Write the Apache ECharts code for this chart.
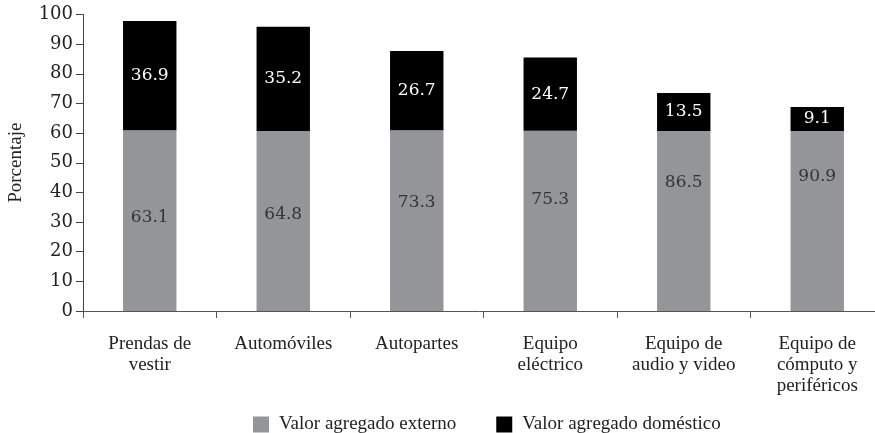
<!DOCTYPE html>
<html>
<head>
<meta charset="utf-8">
<script src="https://cdn.jsdelivr.net/npm/echarts@6/dist/echarts.min.js"></script>
<style>html,body{margin:0;padding:0;background:#fff;}#c{width:875px;height:433px;}</style>
</head>
<body>
<div id="c"></div>
<script>
const categories = ["Prendas de\nvestir", "Automóviles", "Autopartes", "Equipo\neléctrico", "Equipo de\naudio y video", "Equipo de\ncómputo y\nperiféricos"];
// printed values
const externo = [63.1, 64.8, 73.3, 75.3, 86.5, 90.9];
const domestico = [36.9, 35.2, 26.7, 24.7, 13.5, 9.1];
// bar heights as drawn in the picture
const externoDrawn = [61.0, 60.7, 61.0, 60.8, 60.7, 60.7];
const domesticoDrawn = [36.8, 35.2, 26.7, 24.7, 12.8, 8.1];
const yTicks = [0, 10, 20, 30, 40, 50, 60, 70, 80, 90, 100];
const seriesNames = ["Valor agregado externo", "Valor agregado doméstico"];

const textFont = "Liberation Serif";
const numFont = "DejaVu Serif";

const chart = echarts.init(document.getElementById('c'), null, {renderer: 'canvas'});
chart.setOption({
  animation: false,
  backgroundColor: '#ffffff',
  grid: {left: 83, top: 14.5, width: 801, height: 296.5, containLabel: false, outerBoundsMode: 'none'},
  legend: {
    data: seriesNames,
    left: 248, top: 410,
    itemWidth: 16, itemHeight: 16, itemGap: 40,
    icon: 'rect',
    textStyle: {fontFamily: textFont, fontSize: 19, color: '#222', padding: [0, 0, 0, 5]}
  },
  xAxis: {
    type: 'category',
    data: categories,
    axisLine: {lineStyle: {color: '#555', width: 1}},
    axisTick: {show: true, length: 7, lineStyle: {color: '#555'}},
    axisLabel: {margin: 23, fontFamily: textFont, fontSize: 19, color: '#222', lineHeight: 21, interval: 0}
  },
  yAxis: {
    type: 'value', min: 0, max: 100, interval: 10,
    name: 'Porcentaje', nameLocation: 'middle', nameGap: 57,
    nameTextStyle: {fontFamily: textFont, fontSize: 19, color: '#222'},
    axisLine: {show: true, lineStyle: {color: '#444', width: 1}},
    axisTick: {show: true, length: 7, lineStyle: {color: '#444'}},
    splitLine: {show: false},
    axisLabel: {margin: 10, fontFamily: numFont, fontSize: 18, color: '#222',
      formatter: v => yTicks.includes(v) ? String(v) : ''}
  },
  series: [
    {
      name: seriesNames[0], type: 'bar', stack: 'total', barWidth: '40%',
      data: externoDrawn,
      itemStyle: {color: '#939598'}
    },
    {
      name: seriesNames[1], type: 'bar', stack: 'total', barWidth: '40%',
      data: domesticoDrawn,
      itemStyle: {color: '#000000'},
      label: {show: true, position: 'inside', color: '#ffffff', fontFamily: numFont, fontSize: 17,
        formatter: p => domestico[p.dataIndex].toFixed(1)}
    },
    {
      name: 'labels', type: 'scatter', silent: true,
      data: externo.map((v, i) => [i, v / 2]),
      symbolSize: 1, itemStyle: {color: 'rgba(0,0,0,0)'},
      label: {show: true, position: 'inside', color: '#1a1a1a', fontFamily: numFont, fontSize: 17,
        formatter: p => externo[p.dataIndex].toFixed(1)},
      z: 5
    }
  ]
});
</script>
</body>
</html>
